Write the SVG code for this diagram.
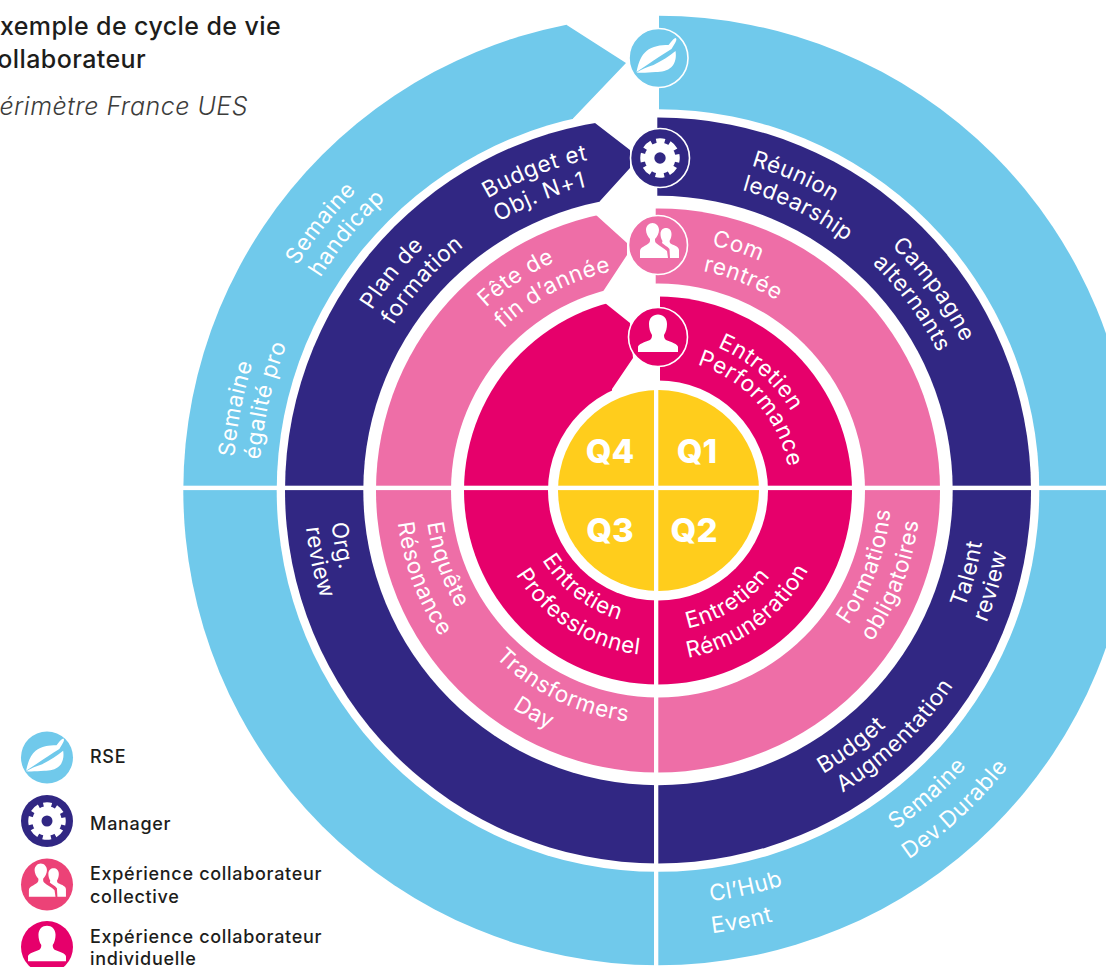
<svg xmlns="http://www.w3.org/2000/svg" width="1106" height="967" viewBox="0 0 1106 967">
<style>
.w{fill:#fff}
.lbl{font-family:Inter,"Open Sans","Liberation Sans",sans-serif;font-size:22.5px;font-weight:400;fill:#fff;text-anchor:middle;letter-spacing:.6px}
.q{font-family:Inter,"Liberation Sans",sans-serif;font-size:33px;font-weight:800;fill:#fff;text-anchor:middle}
.leg{font-family:Inter,"Liberation Sans",sans-serif;font-size:18px;font-weight:500;fill:#1d1d1b;letter-spacing:.7px}
.title{font-family:Inter,"Liberation Sans",sans-serif;font-size:25px;font-weight:500;fill:#1d1d1b;text-anchor:end;letter-spacing:.4px}
.sub{font-family:Inter,"Liberation Sans",sans-serif;font-size:25px;font-weight:300;font-style:italic;fill:#3c3c3b;text-anchor:end;letter-spacing:.5px}
.blue{fill:#70c9eb}.navy{fill:#312783}.pink{fill:#ee6ea7}.crim{fill:#e6006b}.yel{fill:#ffcd1c}
.ring{stroke:#fff;stroke-width:1.6}
</style>
<defs>
<g id="leaf"><path class="w" d="M-22 14C-20 4-17-3-12-7C-6-12 2-13 10-13C12-15 14-19 17-20C18.500-19.500 18-17 16-14L13-9C5-4-3 1-10 6Z"/><path class="w" d="M-22 14.500C-17 11-11 9-5 7C3 3 11-2 17-7C18-1 17 5 13 9C9 13 3 14-3 14C-10 14.500-16 15-22 14.500Z"/></g>
<g id="gear"><circle class="w" r="15.500"/><circle r="17" fill="none" stroke="#fff" stroke-width="5.500" stroke-dasharray="8.500 4.850" stroke-dashoffset="4.250"/></g>
<g id="people"><path class="w" d="M-18 13L-18 6C-18 2-12 1-9-2C-8-3-8-4-8-6C-10-8-12-12-12-15C-12-19-9-22-5.500-22C-2-22 1-19 1-15C1-12-1-8-3-6C-3-4-3-3-2-2C1 1 6 3 9 6L10 13Z"/><path class="w" d="M12 13L11.500 4C9 1 6 0 4-2L4.500-4C3-6 2.500-9 2.500-11C2.500-15 5-17 8-17C11-17 13.500-15 13.500-11C13.500-9 13-6 11.500-4L12-2C14 0 21 1 21 5L21 13Z"/></g>
<g id="person"><path class="w" d="M-20 15L-20 10C-20 7-13 5-8 3C-6.500 2-6 0-6-2C-8-5-9-9-9-13C-9-19-5-22.500 0-22.500C5-22.500 9-19 9-13C9-9 8-5 6-2C6 0 6.500 2 8 3C13 5 20 7 20 10L20 15Z"/></g>
<path id="cw425" d="M658 65.500A425 425 0 1 1 658 915.500A425 425 0 1 1 658 65.500"/>
<path id="cw399" d="M658 91.500A399 399 0 1 1 658 889.500A399 399 0 1 1 658 91.500"/>
<path id="cw338" d="M658 152.500A338 338 0 1 1 658 828.500A338 338 0 1 1 658 152.500"/>
<path id="cw312" d="M658 178.500A312 312 0 1 1 658 802.500A312 312 0 1 1 658 178.500"/>
<path id="cw251" d="M658 239.500A251 251 0 1 1 658 741.500A251 251 0 1 1 658 239.500"/>
<path id="cw224" d="M658 266.500A224 224 0 1 1 658 714.500A224 224 0 1 1 658 266.500"/>
<path id="cw155" d="M658 335.500A155 155 0 1 1 658 645.500A155 155 0 1 1 658 335.500"/>
<path id="cw132" d="M658 358.500A132 132 0 1 1 658 622.500A132 132 0 1 1 658 358.500"/>
<path id="ccw135" d="M658 355.500A135 135 0 1 0 658 625.500A135 135 0 1 0 658 355.500"/>
<path id="ccw141" d="M658 349.500A141 141 0 1 0 658 631.500A141 141 0 1 0 658 349.500"/>
<path id="ccw165" d="M658 325.500A165 165 0 1 0 658 655.500A165 165 0 1 0 658 325.500"/>
<path id="ccw170" d="M658 320.500A170 170 0 1 0 658 660.500A170 170 0 1 0 658 320.500"/>
<path id="ccw233" d="M658 257.500A233 233 0 1 0 658 723.500A233 233 0 1 0 658 257.500"/>
<path id="ccw262" d="M658 228.500A262 262 0 1 0 658 752.500A262 262 0 1 0 658 228.500"/>
<path id="ccw328" d="M658 162.500A328 328 0 1 0 658 818.500A328 328 0 1 0 658 162.500"/>
<path id="ccw354" d="M658 136.500A354 354 0 1 0 658 844.500A354 354 0 1 0 658 136.500"/>
<path id="ccw414" d="M658 76.500A414 414 0 1 0 658 904.500A414 414 0 1 0 658 76.500"/>
<path id="ccw446" d="M658 44.500A446 446 0 1 0 658 936.500A446 446 0 1 0 658 44.500"/>
</defs>

<g id="title">
<text class="title" x="281" y="35">Exemple de cycle de vie</text>
<text class="title" x="146" y="68">collaborateur</text>
<text class="sub" x="248" y="115">Périmètre France UES</text>
</g>

<g id="rings">
<circle class="blue" cx="658" cy="490.500" r="474.700"/>
<circle class="w" cx="658" cy="490.500" r="381.300"/>
<circle class="navy" cx="658" cy="490.500" r="373"/>
<circle class="w" cx="658" cy="490.500" r="294.700"/>
<circle class="pink" cx="658" cy="490.500" r="282"/>
<circle class="w" cx="658" cy="490.500" r="207"/>
<circle class="crim" cx="658" cy="490.500" r="194"/>
<circle class="w" cx="658" cy="490.500" r="110"/>
<circle class="yel" cx="658.500" cy="490.500" r="100.500"/>
</g>

<g id="cuts">
<polygon class="w" points="566.700,10 659,5 659,114 573,125 573,118.500 626,63 566.700,25"/>
<polygon class="w" points="595,119 657.300,112 657.300,205 598,208 600,201 630,168 630,150 595,123"/>
<polygon class="w" points="596,208 655.700,202 655.700,290 600,297 604,290 627,255 627,243 596,215"/>
<polygon class="w" points="605,297 660,290 660,385 612,392 612,389 633,358 630,323 605,303"/>
<rect class="w" x="170" y="485.700" width="936" height="4.400"/>
<rect class="w" x="654" y="385" width="4.300" height="582"/>
</g>

<g id="quarters">
<text class="q" x="610" y="463">Q4</text>
<text class="q" x="697" y="463">Q1</text>
<text class="q" x="610" y="542">Q3</text>
<text class="q" x="694" y="542">Q2</text>
</g>

<g id="labels">
<text class="lbl"><textPath href="#cw425" startOffset="85.67%">Semaine</textPath></text>
<text class="lbl"><textPath href="#cw399" startOffset="86%">handicap</textPath></text>
<text class="lbl"><textPath href="#cw425" startOffset="78.06%">Semaine</textPath></text>
<text class="lbl"><textPath href="#cw399" startOffset="78.6%">égalité pro</textPath></text>
<text class="lbl"><textPath href="#cw338" startOffset="85.9%">Plan de</textPath></text>
<text class="lbl"><textPath href="#cw312" startOffset="86.6%">formation</textPath></text>
<text class="lbl"><textPath href="#cw338" startOffset="94.14%">Budget et</textPath></text>
<text class="lbl"><textPath href="#cw312" startOffset="93.9%">Obj. N+1</textPath></text>
<text class="lbl"><textPath href="#cw251" startOffset="90.64%">Fête de</textPath></text>
<text class="lbl"><textPath href="#cw224" startOffset="92.25%">fin d’année</textPath></text>
<text class="lbl"><textPath href="#cw251" startOffset="5.06%">Com</textPath></text>
<text class="lbl"><textPath href="#cw224" startOffset="6.08%">rentrée</textPath></text>
<text class="lbl"><textPath href="#cw338" startOffset="6.58%">Réunion</textPath></text>
<text class="lbl"><textPath href="#cw312" startOffset="7.33%">ledearship</textPath></text>
<text class="lbl"><textPath href="#cw338" startOffset="14.97%">Campagne</textPath></text>
<text class="lbl"><textPath href="#cw312" startOffset="14.89%">alternants</textPath></text>
<text class="lbl"><textPath href="#cw155" startOffset="11.4%">Entretien</textPath></text>
<text class="lbl"><textPath href="#cw132" startOffset="13.5%">Performance</textPath></text>
<text class="lbl"><textPath href="#ccw328" startOffset="27.75%">Org.</textPath></text>
<text class="lbl"><textPath href="#ccw354" startOffset="28.33%">review</textPath></text>
<text class="lbl"><textPath href="#ccw233" startOffset="30.36%">Enquête</textPath></text>
<text class="lbl"><textPath href="#ccw262" startOffset="30.72%">Résonance</textPath></text>
<text class="lbl"><textPath href="#ccw233" startOffset="42.83%">Transformers</textPath></text>
<text class="lbl"><textPath href="#ccw262" startOffset="41.92%">Day</textPath></text>
<text class="lbl"><textPath href="#ccw135" startOffset="39.5%">Entretien</textPath></text>
<text class="lbl"><textPath href="#ccw165" startOffset="40.86%">Professionnel</textPath></text>
<text class="lbl"><textPath href="#ccw141" startOffset="59.03%">Entretien</textPath></text>
<text class="lbl"><textPath href="#ccw170" startOffset="60.08%">Rémunération</textPath></text>
<text class="lbl"><textPath href="#ccw233" startOffset="69.44%">Formations</textPath></text>
<text class="lbl"><textPath href="#ccw262" startOffset="69.17%">obligatoires</textPath></text>
<text class="lbl"><textPath href="#ccw328" startOffset="70.83%">Talent</textPath></text>
<text class="lbl"><textPath href="#ccw354" startOffset="70.56%">review</textPath></text>
<text class="lbl"><textPath href="#ccw328" startOffset="60.33%">Budget</textPath></text>
<text class="lbl"><textPath href="#ccw354" startOffset="62.22%">Augmentation</textPath></text>
<text class="lbl"><textPath href="#ccw414" startOffset="61.56%">Semaine</textPath></text>
<text class="lbl"><textPath href="#ccw446" startOffset="61.94%">Dev.Durable</textPath></text>
<text class="lbl"><textPath href="#ccw414" startOffset="53.47%">Cl’Hub</textPath></text>
<text class="lbl"><textPath href="#ccw446" startOffset="53.06%">Event</textPath></text>
</g>

<g id="badge-rse" transform="translate(658.500,58)"><circle class="blue ring" r="29.500"/><use href="#leaf"/></g>
<g id="badge-manager" transform="translate(660,158)"><circle class="navy ring" r="29.500"/><use href="#gear"/><circle class="navy" r="5.700"/></g>
<g id="badge-collective" transform="translate(658,245)"><circle class="pink ring" r="29.500"/><use href="#people"/></g>
<g id="badge-individual" transform="translate(658,337)"><circle class="crim ring" r="29.500"/><use href="#person"/></g>

<g id="legend-rse"><circle cx="47" cy="757.500" r="26" class="blue"/><use href="#leaf" transform="translate(47,757.500) scale(.95)"/><text class="leg" x="90" y="763">RSE</text></g>
<g id="legend-manager"><circle cx="47" cy="821" r="26" class="navy"/><use href="#gear" transform="translate(47,821) scale(.95)"/><circle cx="47" cy="821" r="5.500" class="navy"/><text class="leg" x="90" y="830">Manager</text></g>
<g id="legend-collective"><circle cx="47" cy="884.500" r="26" fill="#ec4277"/><use href="#people" transform="translate(46,884.500) scale(.95)"/><text class="leg" x="90" y="880">Expérience collaborateur</text><text class="leg" x="90" y="903">collective</text></g>
<g id="legend-individual"><circle cx="47" cy="947" r="26" class="crim"/><use href="#person" transform="translate(47,947) scale(.95)"/><text class="leg" x="90" y="943">Expérience collaborateur</text><text class="leg" x="90" y="965">individuelle</text></g>
</svg>
